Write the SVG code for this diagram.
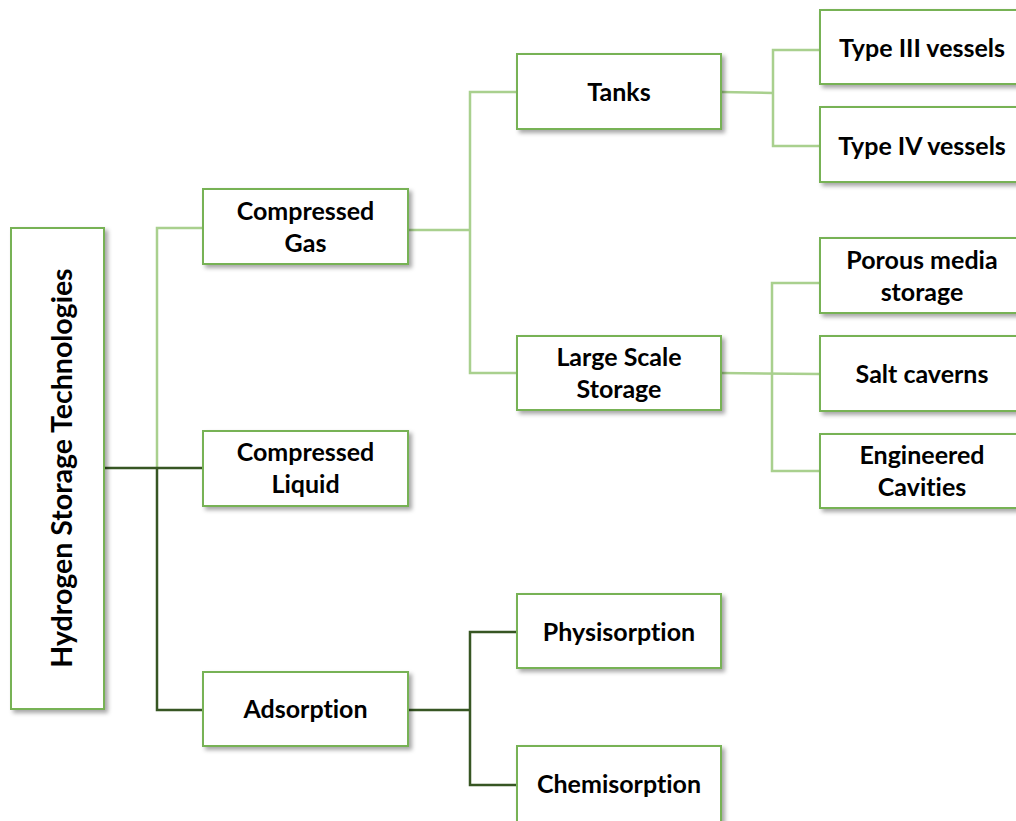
<svg xmlns="http://www.w3.org/2000/svg" width="1016" height="821" viewBox="0 0 1016 821">
<defs>
<filter id="sh" x="-10%" y="-10%" width="130%" height="130%">
<feDropShadow dx="3" dy="3" stdDeviation="2" flood-color="#000" flood-opacity="0.35"/>
</filter>
<style>
.box{fill:#fff;stroke:#77b255;stroke-width:2;filter:url(#sh)}
.t{font-family:Lato,"Open Sans","Liberation Sans",sans-serif;font-weight:bold;font-size:25px;fill:#000;text-anchor:middle;font-variant-ligatures:none;font-feature-settings:"liga" 0}
.lt{fill:none;stroke:#a9d08e;stroke-width:2.5}
.dk{fill:none;stroke:#375623;stroke-width:2.5}
</style>
</defs>
<rect width="1016" height="821" fill="#fff"/>
<g id="connectors">
<polyline class="lt" points="203,228 157,228 157,468"/>
<polyline class="lt" points="408,230 470,230"/>
<polyline class="lt" points="517,92 470,92 470,373 517,373"/>
<polyline class="lt" points="721,92 773,93"/>
<polyline class="lt" points="820,50 773,50 773,146 820,146"/>
<polyline class="lt" points="721,373 820,374"/>
<polyline class="lt" points="820,283 772,283 772,471 820,471"/>
<polyline class="dk" points="104,468 203,468"/>
<polyline class="dk" points="157,468 157,710 203,710"/>
<polyline class="dk" points="408,710 470,710"/>
<polyline class="dk" points="517,632 470,632 470,785 517,785"/>
</g>
<g id="root"><rect class="box" x="11" y="228" width="93" height="481"/>
<text class="t" style="font-size:28.5px" transform="translate(72,468) rotate(-90)">Hydrogen Storage Technologies</text></g>
<g id="compressed-gas"><rect class="box" x="203" y="189" width="205" height="75"/>
<text class="t" x="305.5" y="220">Compressed</text><text class="t" x="305.5" y="252">Gas</text></g>
<g id="compressed-liquid"><rect class="box" x="203" y="431" width="205" height="75"/>
<text class="t" x="305.5" y="461">Compressed</text><text class="t" x="305.5" y="493">Liquid</text></g>
<g id="adsorption"><rect class="box" x="203" y="672" width="205" height="74"/>
<text class="t" x="305.5" y="718">Adsorption</text></g>
<g id="tanks"><rect class="box" x="517" y="54" width="204" height="75"/>
<text class="t" x="619" y="101">Tanks</text></g>
<g id="large-scale-storage"><rect class="box" x="517" y="336" width="204" height="74"/>
<text class="t" x="619" y="366">Large Scale</text><text class="t" x="619" y="398">Storage</text></g>
<g id="physisorption"><rect class="box" x="517" y="594" width="204" height="74"/>
<text class="t" x="619" y="641">Physisorption</text></g>
<g id="chemisorption"><rect class="box" x="517" y="746" width="204" height="80"/>
<text class="t" x="619" y="793">Chemisorption</text></g>
<g id="type-iii"><rect class="box" x="820" y="10" width="204" height="74"/>
<text class="t" x="922" y="57">Type III vessels</text></g>
<g id="type-iv"><rect class="box" x="820" y="107" width="204" height="75"/>
<text class="t" x="922" y="155">Type IV vessels</text></g>
<g id="porous"><rect class="box" x="820" y="238" width="204" height="75"/>
<text class="t" x="922" y="269">Porous media</text><text class="t" x="922" y="301">storage</text></g>
<g id="salt"><rect class="box" x="820" y="336" width="204" height="75"/>
<text class="t" x="922" y="383">Salt caverns</text></g>
<g id="engineered"><rect class="box" x="820" y="434" width="204" height="74"/>
<text class="t" x="922" y="464">Engineered</text><text class="t" x="922" y="496">Cavities</text></g>
</svg>
